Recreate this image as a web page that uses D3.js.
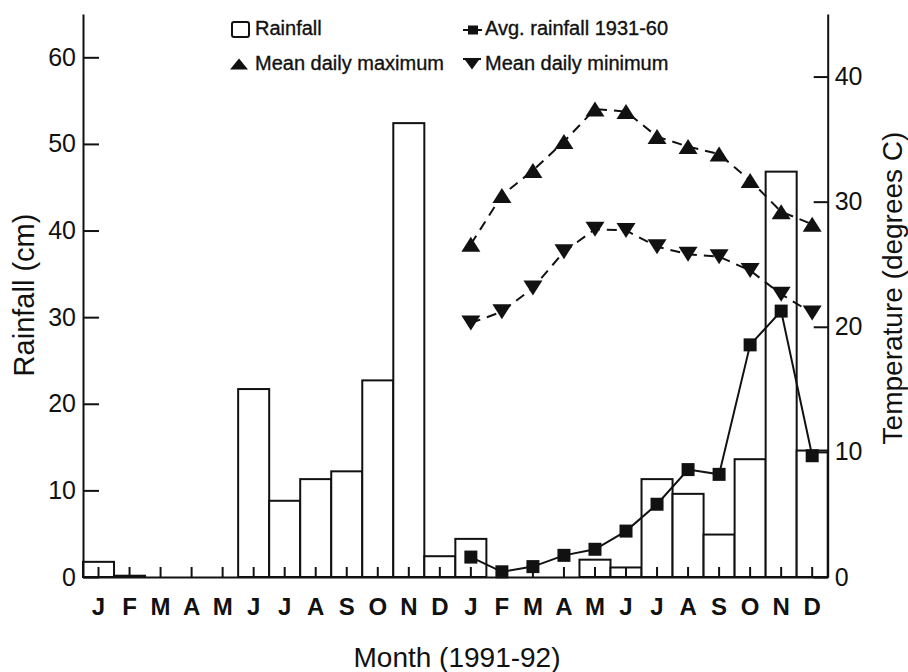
<!DOCTYPE html>
<html>
<head>
<meta charset="utf-8">
<script src="https://cdn.jsdelivr.net/npm/d3@7"></script>
<style>
  html, body { margin: 0; padding: 0; background: #fff; }
  svg { display: block; font-family: "Liberation Sans", Arial, Helvetica, sans-serif; }
</style>
</head>
<body>
<svg id="chart" width="908" height="672"></svg>
<script>
// ---- data ----
const months = ["J","F","M","A","M","J","J","A","S","O","N","D","J","F","M","A","M","J","J","A","S","O","N","D"];
const rainfall = [1.75, 0.15, 0, 0, 0, 21.7, 8.8, 11.3, 12.2, 22.7, 52.4, 2.4,
                  4.4, 0, 0, 0, 2.0, 1.1, 11.3, 9.6, 4.9, 13.6, 46.8, 14.6];
// 1931-60 averages and 1992 temperatures, plotted on the second year's months (index 12..23)
const avgRainfall = [2.3, 0.6, 1.2, 2.5, 3.2, 5.3, 8.4, 12.4, 11.85, 26.8, 30.7, 14.0];
const meanMax = [26.6, 30.5, 32.5, 34.8, 37.4, 37.2, 35.2, 34.4, 33.8, 31.7, 29.2, 28.2];
const meanMin = [20.3, 21.2, 23.1, 26.0, 27.8, 27.7, 26.4, 25.8, 25.6, 24.5, 22.6, 21.1];
const leftTicks = [0, 10, 20, 30, 40, 50, 60];
const rightTicks = [0, 10, 20, 30, 40];
const legendLabels = ["Rainfall", "Avg. rainfall 1931-60", "Mean daily maximum", "Mean daily minimum"];

// ---- layout ----
const svg = d3.select("#chart");
const X0 = 83, X1 = 827.7, Y0 = 577, YTOP = 14;
const font = "\"Liberation Sans\", Arial, Helvetica, sans-serif";

const x = d3.scaleBand().domain(d3.range(months.length)).range([X0, X1]).padding(0);
const yL = d3.scaleLinear().domain([0, 65]).range([Y0, YTOP]);
const yR = d3.scaleLinear().domain([0, 45]).range([Y0, YTOP]);
const cx = i => x(i) + x.bandwidth() / 2;
const off = 12; // second-year offset

// ---- bars ----
svg.append("g").selectAll("rect").data(rainfall).join("rect")
  .attr("x", (d, i) => x(i))
  .attr("y", d => yL(d))
  .attr("width", x.bandwidth())
  .attr("height", d => Y0 - yL(d))
  .attr("fill", "#fff")
  .attr("stroke", "#111")
  .attr("stroke-width", 2);

// ---- axes ----
const gB = svg.append("g").attr("transform", `translate(0,${Y0})`)
  .call(d3.axisBottom(x).tickFormat(i => months[i]).tickSizeInner(-10).tickSizeOuter(0).tickPadding(21));
const gL = svg.append("g").attr("transform", `translate(${X0},0)`)
  .call(d3.axisLeft(yL).tickValues(leftTicks).tickSizeInner(-16).tickSizeOuter(0).tickPadding(7));
const gR = svg.append("g").attr("transform", `translate(${X1},0)`)
  .call(d3.axisRight(yR).tickValues(rightTicks).tickSizeInner(-14).tickSizeOuter(0).tickPadding(7));

[gB, gL, gR].forEach(g => {
  g.selectAll("path.domain").attr("stroke", "#111").attr("stroke-width", 2);
  g.selectAll(".tick line").attr("stroke", "#111").attr("stroke-width", 2);
  g.selectAll("text").attr("fill", "#111").attr("font-family", font);
});
gB.selectAll("text").attr("font-size", 24).attr("font-weight", "bold");
gL.selectAll("text").attr("font-size", 25);
gR.selectAll("text").attr("font-size", 25);

// ---- lines ----
const line = (scale) => d3.line().x((d, i) => cx(i + off)).y(d => scale(d));

svg.append("path").datum(meanMax).attr("d", line(yR))
  .attr("fill", "none").attr("stroke", "#111").attr("stroke-width", 2).attr("stroke-dasharray", "10,7");
svg.append("path").datum(meanMin).attr("d", line(yR))
  .attr("fill", "none").attr("stroke", "#111").attr("stroke-width", 2).attr("stroke-dasharray", "10,7");
svg.append("path").datum(avgRainfall).attr("d", line(yL))
  .attr("fill", "none").attr("stroke", "#111").attr("stroke-width", 2);

// markers
const triUp = (w, h) => `M${-w/2},${h/2}L${w/2},${h/2}L0,${-h/2}Z`;
const triDown = (w, h) => `M${-w/2},${-h/2}L${w/2},${-h/2}L0,${h/2}Z`;

svg.append("g").selectAll("path").data(meanMax).join("path")
  .attr("transform", (d, i) => `translate(${cx(i + off)},${yR(d)})`)
  .attr("d", triUp(19, 15)).attr("fill", "#111");
svg.append("g").selectAll("path").data(meanMin).join("path")
  .attr("transform", (d, i) => `translate(${cx(i + off)},${yR(d)})`)
  .attr("d", triDown(19, 15)).attr("fill", "#111");
svg.append("g").selectAll("rect").data(avgRainfall).join("rect")
  .attr("x", (d, i) => cx(i + off) - 6.5).attr("y", d => yL(d) - 6.5)
  .attr("width", 13).attr("height", 13).attr("fill", "#111");

// ---- axis titles ----
svg.append("text").attr("transform", "translate(34,295) rotate(-90)")
  .attr("text-anchor", "middle").attr("font-size", 29).attr("fill", "#111").text("Rainfall (cm)");
svg.append("text").attr("transform", "translate(902,288) rotate(-90)")
  .attr("text-anchor", "middle").attr("font-size", 28).attr("fill", "#111").text("Temperature (degrees C)");
svg.append("text").attr("x", 457).attr("y", 667)
  .attr("text-anchor", "middle").attr("font-size", 28).attr("fill", "#111").text("Month (1991-92)");

// ---- legend ----
const lg = svg.append("g").attr("font-size", 20).attr("fill", "#111");
const legendPos = [[255, 35], [485, 35], [255, 70], [485, 70]];
legendLabels.forEach((t, k) => {
  lg.append("text").attr("x", legendPos[k][0]).attr("y", legendPos[k][1])
    .attr("stroke", "#111").attr("stroke-width", 0.35).text(t);
});
// legend symbols
lg.append("rect").attr("x", 232).attr("y", 22).attr("width", 17).attr("height", 15).attr("rx", 2)
  .attr("fill", "#fff").attr("stroke", "#111").attr("stroke-width", 2);
lg.append("line").attr("x1", 463).attr("x2", 482).attr("y1", 30).attr("y2", 30).attr("stroke", "#111").attr("stroke-width", 2);
lg.append("rect").attr("x", 468).attr("y", 25.5).attr("width", 10).attr("height", 9).attr("fill", "#111");
lg.append("path").attr("transform", "translate(239,64)").attr("d", triUp(18, 11)).attr("fill", "#111");
lg.append("line").attr("x1", 463).attr("x2", 481).attr("y1", 59).attr("y2", 59).attr("stroke", "#111").attr("stroke-width", 2);
lg.append("path").attr("transform", "translate(472,64)").attr("d", triDown(16, 11)).attr("fill", "#111");
</script>
</body>
</html>
